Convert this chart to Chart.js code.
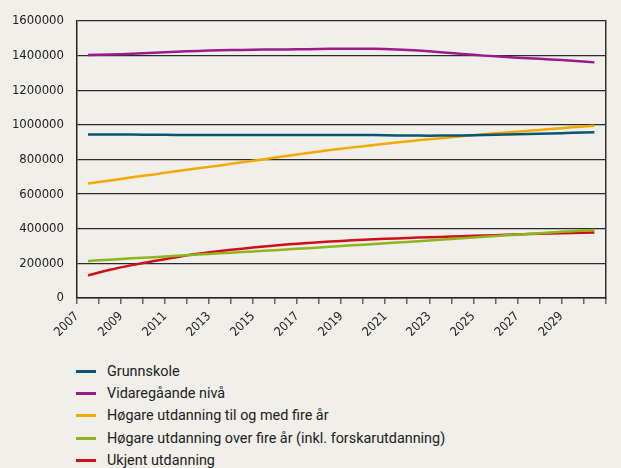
<!DOCTYPE html>
<html>
<head>
<meta charset="utf-8">
<script src="https://cdn.jsdelivr.net/npm/chart.js@4/dist/chart.umd.min.js"></script>
<style>
  html,body{margin:0;padding:0;background:#f0efea;}
  #wrap{position:relative;width:621px;height:468px;background:#f0efea;overflow:hidden;}
  #box{position:absolute;left:0;top:0;width:621px;height:345px;}
  #leg{position:absolute;left:76px;top:360px;font-family:Roboto,sans-serif;font-size:14.4px;color:#222;}
  .li{height:22.4px;display:flex;align-items:center;}
  .li i{display:inline-block;width:20px;height:3px;margin-right:11px;}
</style>
</head>
<body>
<div id="wrap">
  <div id="box"><canvas id="c"></canvas></div>
  <div id="leg"></div>
</div>
<script>
// ── DATA ────────────────────────────────────────────────────────────────────
const years = [2007,2008,2009,2010,2011,2012,2013,2014,2015,2016,2017,2018,
               2019,2020,2021,2022,2023,2024,2025,2026,2027,2028,2029,2030];
const yTicks = [0,200000,400000,600000,800000,1000000,1200000,1400000,1600000];

const grunnskole = [945000,945000,944000,943000,942000,941000,941000,942000,942000,941000,941000,942000,
                    942000,941000,939000,938000,938000,939000,941000,944000,947000,950000,954000,957000];
const vidaregaande = [1403000,1406000,1411000,1416000,1422000,1427000,1431000,1433000,1435000,1436000,1437000,1439000,
                      1440000,1439000,1435000,1429000,1420000,1410000,1400000,1392000,1385000,1378000,1370000,1361000];
const hogareTil4 = [662000,679000,697000,714000,732000,749000,766000,784000,802000,820000,838000,855000,
                    870000,884000,898000,911000,923000,935000,946000,956000,966000,976000,986000,995000];
const hogareOver4 = [214000,221000,229000,236000,244000,251000,258000,265000,273000,280000,288000,296000,
                     304000,312000,320000,328000,336000,345000,354000,362000,370000,378000,386000,393000];
const ukjent = [131000,163000,190000,214000,236000,255000,271000,285000,298000,309000,318000,326000,
                333000,339000,344000,349000,353000,357000,361000,365000,369000,372000,375000,379000];

const series = [
  {label:'Grunnskole', data:grunnskole, color:'#0a5474'},
  {label:'Vidaregåande nivå', data:vidaregaande, color:'#9c1a8c'},
  {label:'Høgare utdanning til og med fire år', data:hogareTil4, color:'#f2a900'},
  {label:'Høgare utdanning over fire år (inkl. forskarutdanning)', data:hogareOver4, color:'#8db61e'},
  {label:'Ukjent utdanning', data:ukjent, color:'#d10f1b'}
];

// each year's value sits in the middle of its year on the axis
const pts = arr => arr.map((v,i)=>({x:years[i]+0.5, y:v}));

const FONT = {family:'"DejaVu Sans Condensed","DejaVu Sans",sans-serif', size:13};

new Chart(document.getElementById('c'),{
  type:'line',
  data:{datasets:series.map(s=>({
    label:s.label, data:pts(s.data), borderColor:s.color, backgroundColor:s.color,
    borderWidth:2.5, pointRadius:0, tension:0.4, fill:false
  }))},
  options:{
    responsive:true, maintainAspectRatio:false, animation:false,
    layout:{padding:{top:21,left:0,right:0,bottom:0}},
    plugins:{legend:{display:false}, tooltip:{enabled:false}},
    scales:{
      x:{
        type:'linear', min:years[0], max:years[years.length-1]+1,
        ticks:{stepSize:1, autoSkip:false, maxRotation:45, minRotation:45, color:'#222',
          font:{...FONT, size:12.5}, padding:5,
          callback:v=> (v%2===1 && v<=2029) ? String(v) : ''},
        grid:{drawOnChartArea:false, drawTicks:true, tickLength:6, color:'#666', lineWidth:1.5},
        border:{display:true, color:'#222', width:1.5},
        afterFit:s=>{ s.height = 47; }
      },
      y:{
        min:0, max:yTicks[yTicks.length-1],
        afterBuildTicks:s=>{ s.ticks = yTicks.map(v=>({value:v})); },
        ticks:{color:'#222', font:FONT, padding:13, callback:v=>String(v)},
        grid:{color:'#2a2a2a', lineWidth:1.3, drawTicks:false},
        border:{display:true, color:'#222', width:1.5},
        afterFit:s=>{ s.width = 77; }
      },
      y2:{
        position:'right', min:0, max:yTicks[yTicks.length-1],
        ticks:{display:false}, grid:{drawOnChartArea:false, drawTicks:false},
        border:{display:true, color:'#333', width:1.5},
        afterFit:s=>{ s.width = 1; }
      }
    }
  }
});

// HTML legend, one row per series
document.getElementById('leg').innerHTML = series.map(s=>
  `<div class="li"><i style="background:${s.color}"></i>${s.label}</div>`).join('');
</script>
</body>
</html>
